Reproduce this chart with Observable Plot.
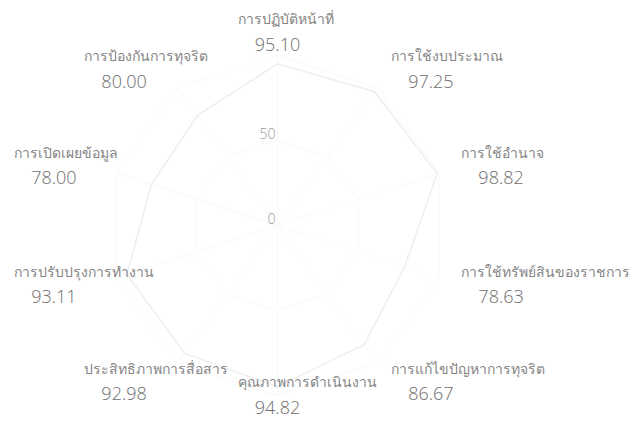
<!DOCTYPE html>
<html>
<head>
<meta charset="utf-8">
<script src="https://cdn.jsdelivr.net/npm/d3@7"></script>
<script src="https://cdn.jsdelivr.net/npm/@observablehq/plot@0.6"></script>
<style>
  html, body { margin: 0; padding: 0; background: #ffffff; }
  #chart svg { display: block; }
</style>
</head>
<body>
<div id="chart"></div>
<script>
// ---- data ----
const categories = [
  "การปฏิบัติหน้าที่",
  "การใช้งบประมาณ",
  "การใช้อำนาจ",
  "การใช้ทรัพย์สินของราชการ",
  "การแก้ไขปัญหาการทุจริต",
  "คุณภาพการดำเนินงาน",
  "ประสิทธิภาพการสื่อสาร",
  "การปรับปรุงการทำงาน",
  "การเปิดเผยข้อมูล",
  "การป้องกันการทุจริต"
];
const scores = [95.10, 97.25, 98.82, 78.63, 86.67, 94.82, 92.98, 93.11, 78.00, 80.00];
const tickValues = [0, 50];
const gridLevels = [50, 100];
const maxValue = 100;

// ---- layout ----
const W = 642, H = 436;
const CX = 277, CY = 225;   // chart centre in px
const PX = 1.7;             // px per data unit
const n = categories.length;
const angle = i => (2 * Math.PI * i) / n;
const px = u => u / PX;     // px -> data units

const spokes = categories.map((c, i) => ({
  x1: 0, y1: 0,
  x2: maxValue * Math.sin(angle(i)), y2: maxValue * Math.cos(angle(i))
}));

const grid = gridLevels.flatMap(level =>
  categories.map((c, i) => ({level, x: level * Math.sin(angle(i)), y: level * Math.cos(angle(i))}))
);

const pts = scores.map((v, i) => ({x: v * Math.sin(angle(i)), y: v * Math.cos(angle(i))}));

// label blocks
const labelR = px(193);
const blockW = px(80);
const labels = categories.map((name, i) => {
  const s = Math.sin(angle(i)), c = Math.cos(angle(i));
  const side = Math.abs(s) < 1e-6 ? 0 : Math.sign(s);
  const start = labelR * s + (side - 1) * blockW / 2;
  const yc = Math.max(labelR * c, -px(H - CY - 41));
  return {name, value: scores[i].toFixed(2), start, mid: start + blockW / 2, y: yc};
});

const ticks = tickValues.map(v => ({v, x: 0, y: v}));

const chart = Plot.plot({
  width: W,
  height: H,
  marginTop: 0, marginRight: 0, marginBottom: 0, marginLeft: 0,
  x: {domain: [-px(CX), px(W - CX)], range: [0, W], axis: null},
  y: {domain: [-px(H - CY), px(CY)], range: [H, 0], axis: null},
  style: {fontFamily: "'Open Sans', 'Noto Sans', sans-serif", background: "#ffffff"},
  marks: [
    Plot.line(grid, {x: "x", y: "y", z: "level", curve: "linear-closed", stroke: "#f9f9f9", strokeWidth: 1}),
    Plot.link(spokes, {x1: "x1", y1: "y1", x2: "x2", y2: "y2", stroke: "#f9f9f9", strokeWidth: 1}),
    Plot.line(pts, {x: "x", y: "y", curve: "linear-closed", stroke: "#eeeeee", strokeWidth: 1.5}),
    Plot.text(ticks, {x: "x", y: "y", text: d => String(d.v), textAnchor: "end", dx: -2, dy: -6,
      fontSize: 14, fill: "#999999", fontWeight: 300}),
    Plot.text(labels, {x: "start", y: "y", text: "name", textAnchor: "start", dy: -12.5,
      fontSize: 14, fill: "#858585", fontWeight: 300}),
    Plot.text(labels, {x: "mid", y: "y", text: "value", textAnchor: "middle", dy: 12.5,
      fontSize: 18, fill: "#6e6e6e", fontWeight: 300})
  ]
});
document.getElementById("chart").appendChild(chart);
</script>
</body>
</html>
